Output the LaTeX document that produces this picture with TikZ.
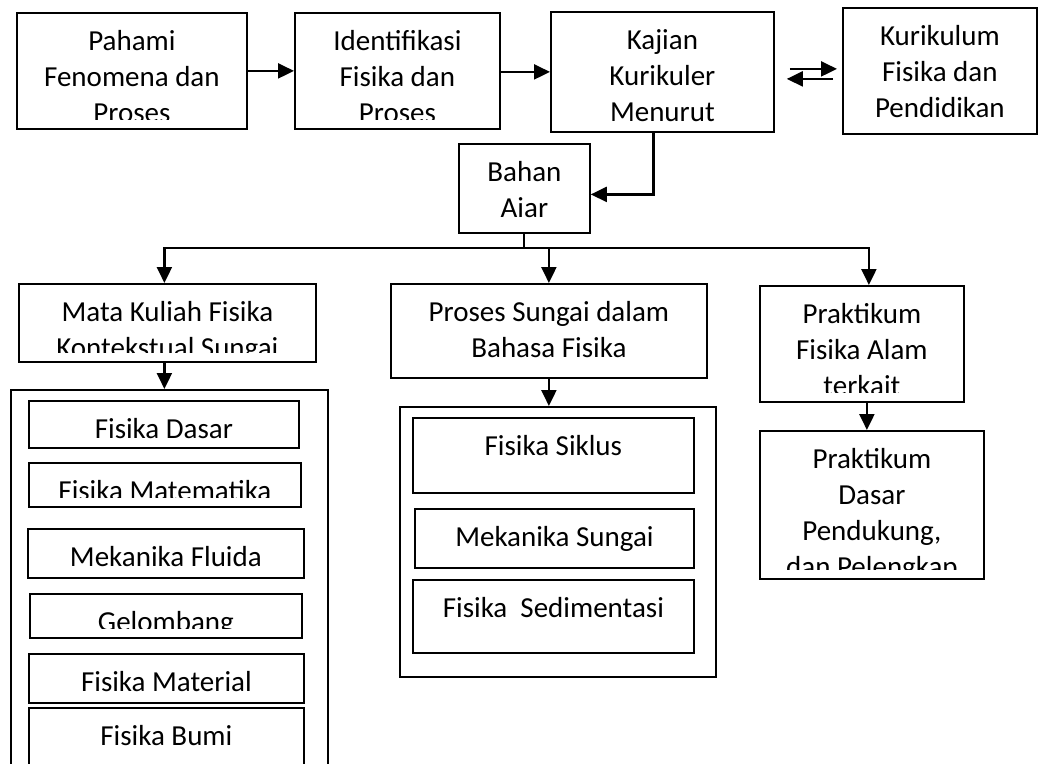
\documentclass[tikz,border=0pt]{standalone}
\usepackage{fontspec}
\setmainfont{Carlito}
\usetikzlibrary{arrows.meta}

\tikzset{
  kotak/.style={draw, line width=1.8pt, inner sep=0pt, anchor=north west},
  teks/.style={font=\fontsize{29}{36}\selectfont, inner sep=0pt, anchor=base},
  isi/.style={path picture={
      \clip (path picture bounding box.north west) rectangle ([yshift=9pt]path picture bounding box.south east);
      \node[teks] at ([yshift=-38pt]path picture bounding box.north) {\begin{tabular}[t]{@{}c@{}}#1\end{tabular}};}},
  arr/.style={line width=2.2pt, -{Triangle[length=16pt,width=15pt]}},
  garis/.style={line width=2pt},
}

\begin{document}
\begin{tikzpicture}[x=1pt,y=-1pt]

\useasboundingbox (0,0) rectangle (1040,763);
\clip (0,0) rectangle (1040,763);

% baris atas
\node[kotak, minimum width=230pt, minimum height=116pt, isi={Pahami\\Fenomena dan\\Proses}] (pahami) at (16,12) {};
\node[kotak, minimum width=205pt, minimum height=116pt, isi={Identifikasi\\Fisika dan\\Proses}] (identifikasi) at (294,12) {};
\node[kotak, minimum width=223pt, minimum height=120pt, isi={Kajian\\Kurikuler\\Menurut}] (kajian) at (550,11) {};
\node[kotak, minimum width=194pt, minimum height=126pt, isi={Kurikulum\\Fisika dan\\Pendidikan}] (kurikulum) at (842,7) {};

\node[kotak, minimum width=131pt, minimum height=89pt, isi={Bahan\\Aiar}] (bahan) at (458,143) {};

% tiga cabang
\node[kotak, minimum width=297pt, minimum height=78pt, isi={Mata Kuliah Fisika\\Kontekstual Sungai}] (matkul) at (18,283) {};
\node[kotak, minimum width=316pt, minimum height=94pt, isi={Proses Sungai dalam\\Bahasa Fisika}] (proses) at (390,283) {};
\node[kotak, minimum width=204pt, minimum height=116pt, isi={Praktikum\\Fisika Alam\\terkait}] (praktikum) at (759,285) {};

% kiri
\node[kotak, minimum width=317pt, minimum height=420pt] (wadahkiri) at (10,389) {};
\node[kotak, minimum width=270pt, minimum height=47pt, isi={Fisika Dasar}] (dasar) at (28,400) {};
\node[kotak, minimum width=272pt, minimum height=44pt, isi={Fisika Matematika}] (matematika) at (28,462) {};
\node[kotak, minimum width=276pt, minimum height=49pt, isi={Mekanika Fluida}] (fluida) at (27,528) {};
\node[kotak, minimum width=272pt, minimum height=44pt, isi={Gelombang}] (gelombang) at (29,593) {};
\node[kotak, minimum width=275pt, minimum height=49pt, isi={Fisika Material}] (material) at (28,653) {};
\node[kotak, minimum width=275pt, minimum height=100pt, isi={Fisika Bumi}] (bumi) at (28,707) {};

% tengah
\node[kotak, minimum width=316pt, minimum height=270pt] (wadahtengah) at (399,406) {};
\node[kotak, minimum width=281pt, minimum height=75pt, isi={Fisika Siklus}] (siklus) at (412,417) {};
\node[kotak, minimum width=279pt, minimum height=59pt, isi={Mekanika Sungai}] (sungai) at (414,508) {};
\node[kotak, minimum width=281pt, minimum height=73pt, isi={Fisika\ \ Sedimentasi}] (sedimen) at (412,579) {};

% kanan
\node[kotak, minimum width=224pt, minimum height=148pt, isi={Praktikum\\Dasar\\Pendukung,\\dan Pelengkap}] (pdasar) at (759,430) {};

% panah
\draw[arr] (pahami) -- (identifikasi);
\draw[arr] (identifikasi.east |- kajian) -- (kajian);
\draw[arr] ([shift={(15,-3)}]kajian.east) -- ([shift={(-5,-3)}]kurikulum.west |- kajian.east);
\draw[arr] ([shift={(-9,7)}]kurikulum.west |- kajian.east) -- ([shift={(12,7)}]kajian.east);
\draw[arr] ([xshift=-9pt]kajian.south) |- ([yshift=-6pt]bahan.east);

\coordinate (cabang) at ([yshift=-14pt]bahan.south);
\draw[garis] (bahan.south) -- (cabang);
\draw[arr] (cabang) -| ([xshift=-3pt]matkul.north);
\draw[arr] (cabang) -| ([xshift=7pt]praktikum.north);
\draw[arr] (cabang -| proses.north) -- (proses.north);

\draw[arr] ([xshift=-3pt]matkul.south) -- ([xshift=-3pt]matkul.south |- wadahkiri.north);
\draw[arr] (proses.south) -- (proses.south |- wadahtengah.north);
\draw[arr] ([xshift=5pt]praktikum.south) -- ([xshift=5pt]praktikum.south |- pdasar.north);

\end{tikzpicture}
\end{document}
